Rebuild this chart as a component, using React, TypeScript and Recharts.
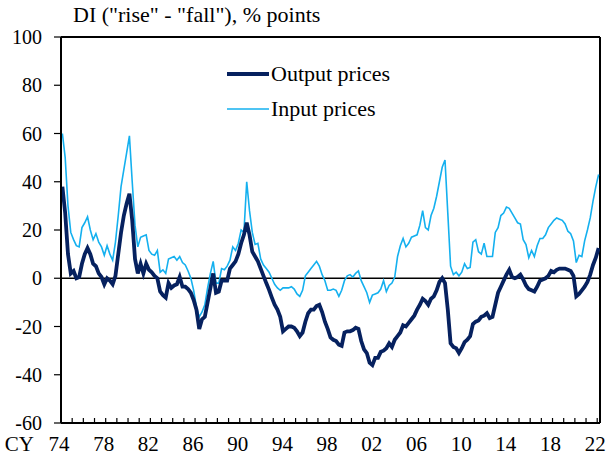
import React from 'react';
import { LineChart, Line, XAxis, YAxis, ReferenceLine, Legend } from 'recharts';

// Tankan price DIs, quarterly from 1974Q1
const START_YEAR = 1974;

const OUTPUT_PRICES = [
  38, 27, 10, 2, 3, 0, 0.5, 6, 10, 12.5, 10, 6, 5, 2, 0.5, -2.5,
  0, -1, -2.5, 1, 10, 19, 26, 31, 35, 24, 8, 2, 6, 2, 6, 3.5,
  2.5, 1, 0, -5.5, -7, -8, -2, -4, -3, -2.5, 0.5, -3.5, -3.5, -4.5, -6, -9,
  -13, -21, -17, -16, -10, -4, 2, -6, -5.5, -1, -1, -1, 4, 5.5, 7, 10,
  14.5, 18, 23, 18, 11, 9, 7, 4, 1, -2, -4.8, -8, -11, -13, -16, -22,
  -21, -20, -20, -20.5, -22, -24, -22.5, -18, -14.5, -13, -13, -11.5, -11, -14, -18, -21,
  -24.5, -25.5, -26, -27.5, -28, -22.5, -22, -22, -21.5, -20.5, -21, -26, -29.5, -31, -35, -36,
  -33, -33, -30.5, -30, -29, -27, -28.5, -25.5, -24, -22.5, -19.5, -20, -18.5, -17, -15.5, -13,
  -11, -8.5, -9.5, -11, -8.5, -7.5, -5, -1.5, 0, -2, -13, -27, -28.5, -29, -31, -29,
  -26.5, -25.5, -24, -19, -18, -17.5, -16, -15.5, -14.5, -16.5, -16, -11, -6, -3.5, -1, 1.5,
  3.5, 0.5, 0, 0.5, 1.5, -0.5, -3, -4.5, -5, -5.5, -3.5, -1, -0.5, 0, 1, 3,
  2.5, 3.5, 4, 4, 4, 3.5, 3, 1, -7.5, -6.5, -5, -3.5, -1.5, 1.5, 5.5, 8.5,
  12.5,
];

const INPUT_PRICES = [
  60, 50, 30, 19, 16, 13.5, 13, 21, 23, 25.5, 20, 16, 18.5, 15, 13, 9.5,
  13.5, 10, 7.5, 15, 26, 38, 45, 52, 59, 40, 22, 13, 17, 17.5, 18, 11.5,
  10, 9.5, 11.5, 2.5, 3.5, 2, 8, 8.5, 9, 7.5, 9, 6.5, 5.5, 3, 0, -5,
  -12, -16, -14, -11, -4, 2, 7, -2, -2, 4, 3.5, 5, 7.5, 13, 11.5, 14.5,
  20, 19, 40, 28, 19, 14, 14.5, 8, 5.5, 4, 2.5, 0, -2.5, -4, -5, -4,
  -4, -4, -3.5, -4.5, -6.5, -7.5, -5, 1, 2.5, 4, 5.5, 7, 5, 1.5, -1, -5,
  -5, -4.5, -5, -7.5, -5, -1, 1, 1.5, 0.5, 2, 3, -1, -3.5, -6, -10, -7,
  -6.5, -6, -4.5, -1, -5.5, -3, -2, 0.5, 9, 13.5, 16.5, 13, 14.5, 17, 17.5, 18,
  22, 28, 21, 20, 26, 29, 34, 40, 46, 49, 27, 5, 1.5, 2.5, 1, 2.5,
  6, 4, 4.5, 15, 16, 11, 10, 14.5, 9, 9, 9, 19, 21, 26, 27, 29.5,
  29, 27, 25, 23, 22.5, 16, 14, 8.5, 11.5, 9, 13.5, 16.5, 16.5, 18, 21, 22.5,
  24, 25, 24.5, 24, 22.5, 19.5, 18.5, 15.5, 6.5, 9.5, 9, 15.5, 20, 25, 32, 38,
  43,
];

const Y_TICKS = [-60, -40, -20, 0, 20, 40, 60, 80, 100];
const LABEL_YEARS = [1974, 1978, 1982, 1986, 1990, 1994, 1998, 2002, 2006, 2010, 2014, 2018, 2022];
const YEAR_TICKS = Array.from({ length: 49 }, (_, k) => START_YEAR + k);
const X_END = 2022.25;

const FONT = '"Liberation Serif", "Times New Roman", serif';
const OUTPUT_COLOR = '#06215f';
const INPUT_COLOR = '#14b0ef';

const data = OUTPUT_PRICES.map((v, i) => ({
  t: START_YEAR + (i + 0.5) / 4,
  output: v,
  input: INPUT_PRICES[i],
}));

// minor tick every year, label every 4 years
const YearTick = (props: any) => {
  const { x, y, payload } = props;
  const year = payload.value;
  return (
    <g>
      <line x1={x} x2={x} y1={y} y2={y - 5} stroke="#000" strokeWidth={1.2} />
      {LABEL_YEARS.includes(year) && (
        <text x={x - 2} y={y + 27.5} textAnchor="middle" fontSize={21} fontFamily={FONT} fill="#000">
          {String(year).slice(2)}
        </text>
      )}
      {year === START_YEAR && (
        <text x={x - 27} y={y + 27.5} textAnchor="end" fontSize={21} fontFamily={FONT} fill="#000">
          CY
        </text>
      )}
    </g>
  );
};

const LegendBox = () => (
  <div style={{ fontFamily: FONT, fontSize: 22, color: '#000' }}>
    {[
      { name: 'Output prices', color: OUTPUT_COLOR, w: 4 },
      { name: 'Input prices', color: INPUT_COLOR, w: 1.5 },
    ].map((item) => (
      <div key={item.name} style={{ display: 'flex', alignItems: 'center', height: 35, whiteSpace: 'nowrap' }}>
        <svg width={42} height={10}>
          <line x1={0} x2={42} y1={5} y2={5} stroke={item.color} strokeWidth={item.w} />
        </svg>
        <span style={{ marginLeft: 2 }}>{item.name}</span>
      </div>
    ))}
  </div>
);

export default function App() {
  return (
    <div style={{ position: 'absolute', left: 0, top: 0, width: 607, height: 455, background: '#fff' }}>
      <div style={{ position: 'absolute', left: 73, top: 2, fontFamily: FONT, fontSize: 22, color: '#000', whiteSpace: 'nowrap' }}>
        DI ("rise" - "fall"), % points
      </div>
      <LineChart width={607} height={455} data={data} margin={{ top: 37, right: 7, bottom: 0, left: 0 }}>
        <XAxis
          type="number"
          dataKey="t"
          domain={[START_YEAR, X_END]}
          ticks={YEAR_TICKS}
          interval={0}
          tick={<YearTick />}
          tickLine={false}
          tickSize={0}
          tickMargin={0}
          height={32}
          axisLine={{ stroke: '#000', strokeWidth: 2 }}
          allowDataOverflow
        />
        <YAxis
          type="number"
          domain={[-60, 100]}
          ticks={Y_TICKS}
          interval={0}
          width={61}
          tickSize={7}
          tickMargin={12}
          tickLine={{ stroke: '#000', strokeWidth: 1.2 }}
          axisLine={{ stroke: '#000', strokeWidth: 2 }}
          tick={{ fill: '#000', fontSize: 20, fontFamily: FONT }}
        />
        <ReferenceLine y={100} stroke="#000" strokeWidth={2} />
        <ReferenceLine x={X_END} stroke="#000" strokeWidth={2} />
        <ReferenceLine y={0} stroke="#000" strokeWidth={1.5} />
        <Line type="linear" dataKey="input" stroke={INPUT_COLOR} strokeWidth={1.6} dot={false} isAnimationActive={false} />
        <Line type="linear" dataKey="output" stroke={OUTPUT_COLOR} strokeWidth={3.8} dot={false} isAnimationActive={false} />
        <Legend
          layout="vertical"
          align="center"
          verticalAlign="middle"
          content={<LegendBox />}
          wrapperStyle={{ left: 227, top: 56, width: 230, height: 70 }}
        />
      </LineChart>
    </div>
  );
}
